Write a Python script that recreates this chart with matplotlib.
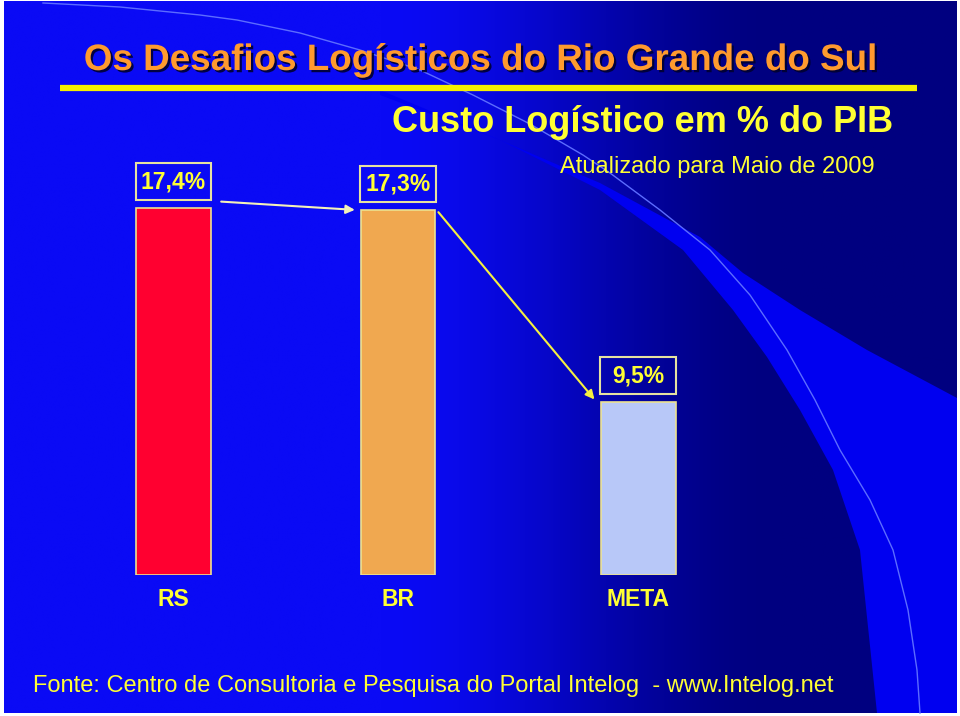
import numpy as np
import matplotlib.pyplot as plt
import matplotlib.patheffects as pe
from matplotlib.patches import Rectangle

plt.rcParams['font.family'] = ['Liberation Sans', 'DejaVu Sans']

# dados
categorias = ["RS", "BR", "META"]
valores = [17.4, 17.3, 9.5]
cores = ["#FF0030", "#F0A850", "#B8C8F8"]

titulo = "Os Desafios Logísticos do Rio Grande do Sul"
subtitulo = "Custo Logístico em % do PIB"
nota = "Atualizado para Maio de 2009"
fonte = "Fonte: Centro de Consultoria e Pesquisa do Portal Intelog  - www.Intelog.net"

AMARELO = "#FFFF33"
W, H = 960, 716

fig = plt.figure(figsize=(9.6, 7.16), dpi=100, facecolor="white")

# fundo do slide (gradiente azul + faixa curva)
bg = fig.add_axes([0, 0, 1, 1])
bg.set_xlim(0, W)
bg.set_ylim(H, 0)
bg.axis("off")

xx = np.linspace(0, W, W)
t = np.clip((xx - 380) / 400, 0, 1)
t = t * t * (3 - 2 * t)
claro = np.array([10, 10, 245]) / 255
escuro = np.array([0, 0, 128]) / 255
linha = claro[None, :] * (1 - t[:, None]) + escuro[None, :] * t[:, None]
img = np.repeat(linha[None, :, :], H, axis=0)
bg.imshow(img, extent=(4, 957, 713, 1), aspect="auto", zorder=0)

sup_x = [380, 500, 600, 700, 743, 800, 867, 957]
sup_y = [90, 140, 183, 237, 273, 310, 350, 398]
inf_x = [957, 877, 860, 833, 800, 767, 733, 683, 600, 500, 380]
inf_y = [713, 713, 550, 470, 410, 357, 310, 250, 190, 140, 95]
bg.fill(sup_x + inf_x, sup_y + inf_y, color="#0000F0", lw=0, zorder=1)

arco_x = [43, 120, 200, 237, 300, 360, 420, 473, 530, 583, 610, 660, 710, 750, 787, 815, 840, 870, 893, 908, 917, 920]
arco_y = [3, 7, 15, 20, 33, 50, 70, 95, 124, 155, 173, 210, 250, 295, 350, 400, 450, 500, 550, 610, 670, 713]
bg.plot(arco_x, arco_y, color="#5C6CFF", lw=1, zorder=2)

# títulos
bg.text(480, 70, titulo, color="#FF9A2E", fontsize=26.5, fontweight="bold",
        ha="center", va="baseline", zorder=5,
        path_effects=[pe.withSimplePatchShadow(offset=(1.6, -1.6), shadow_rgbFace="#000030", alpha=0.9)])
bg.plot([60, 917], [88, 88], color="#F5F000", lw=4.5, solid_capstyle="butt", zorder=5)
bg.text(893, 132, subtitulo, color=AMARELO, fontsize=26, fontweight="bold",
        ha="right", va="baseline", zorder=5)
bg.text(875, 173, nota, color=AMARELO, fontsize=17, ha="right", va="baseline", zorder=5)
bg.text(33, 692, fonte, color=AMARELO, fontsize=17, ha="left", va="baseline", zorder=5)

# gráfico de barras
pos = [0, 1, 2.07]
base = 2.44
ax = fig.add_axes([100 / W, (H - 575) / H, 620 / W, 425 / H])
ax.patch.set_alpha(0)
ax.set_xlim(-0.3274, 2.4343)
ax.set_ylim(base, base + 425 / 24.56)
for s in ax.spines.values():
    s.set_visible(False)
ax.set_yticks([])
ax.set_xticks(pos, categorias)
ax.tick_params(axis="x", length=0, pad=9, labelcolor=AMARELO, labelsize=16.5)
for lbl in ax.get_xticklabels():
    lbl.set_fontweight("bold")

larg = 0.334
ax.bar(pos, np.array(valores) - base, bottom=base, width=larg, color=cores,
       edgecolor="#ECE290", linewidth=1.2)

caixa_w, caixa_h, folga = 0.3385, 1.506, 1.06
for x, v in zip(pos, valores):
    ax.add_patch(Rectangle((x - caixa_w / 2, v + folga - caixa_h / 2), caixa_w, caixa_h,
                           facecolor="none", edgecolor="#E6E2A0", lw=1.5, clip_on=False))
    ax.text(x, v + folga, f"{v:.1f}%".replace(".", ","), color=AMARELO, fontsize=16.5,
            fontweight="bold", ha="center", va="center", clip_on=False)

# setas
ax.annotate("", xy=(pos[1] - 0.18, valores[1]), xytext=(pos[0] + 0.2, valores[0] + 0.25),
            arrowprops=dict(arrowstyle="-|>", color="#F4F2B8", lw=1.5, mutation_scale=13),
            annotation_clip=False)
ax.annotate("", xy=(pos[2] - larg / 2 - 0.02, valores[2]), xytext=(pos[1] + larg / 2 + 0.005, valores[1]),
            arrowprops=dict(arrowstyle="-|>", color="#F5F040", lw=1.5, mutation_scale=13),
            annotation_clip=False)

fig.savefig("out.png", dpi=100, facecolor=fig.get_facecolor())
